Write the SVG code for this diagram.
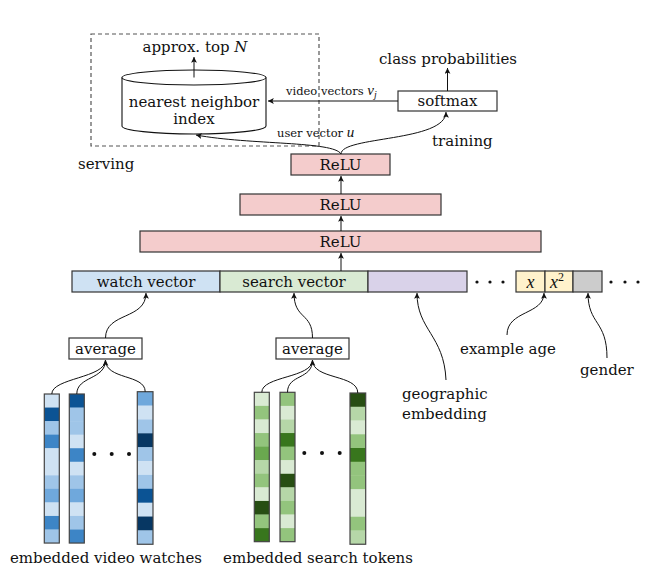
<svg xmlns="http://www.w3.org/2000/svg" width="666" height="588" viewBox="0 0 666 588">
<style>
text{font-family:"DejaVu Serif","Liberation Serif",serif;font-size:15px;fill:#111}
.sm{font-size:11.5px}
.it{font-style:italic}
.mx{font-family:"Liberation Serif","DejaVu Serif",serif;font-style:italic;font-size:18px}
.box{stroke:#333;stroke-width:1.2}
.c{fill:none;stroke:#111;stroke-width:1}
.col{fill:none;stroke:#444;stroke-width:1.2}
.cs{stroke:none}
</style>
<defs>
<marker id="ah" markerWidth="7" markerHeight="6" refX="5" refY="2.5" orient="auto" markerUnits="userSpaceOnUse" viewBox="0 0 6 5">
<path d="M0,0 L5,2.5 L0,5 L1.2,2.5 z" fill="#111"/>
</marker>
</defs>
<rect width="666" height="588" fill="#fff"/>

<g id="serving-box">
<rect x="91" y="34" width="228" height="112" fill="none" stroke="#555" stroke-width="1.2" stroke-dasharray="4,3"/>
<text x="78" y="169">serving</text>
</g>

<g id="nn-index">
<path d="M122,77.5 L122,126 A72,8 0 0 0 266,126 L266,77.5" fill="#fff" stroke="#111" stroke-width="1.1"/>
<ellipse cx="194" cy="77.5" rx="72" ry="7.5" fill="#fff" stroke="#111" stroke-width="1.1"/>
<text x="194" y="107" text-anchor="middle">nearest neighbor</text>
<text x="194" y="124" text-anchor="middle">index</text>
</g>

<g id="approx">
<text x="195" y="52" text-anchor="middle">approx. top <tspan class="it">N</tspan></text>
</g>

<g id="softmax">
<rect class="box" x="398" y="91" width="99" height="20" fill="#fff"/>
<text x="447.5" y="106" text-anchor="middle">softmax</text>
</g>
<g id="class-prob"><text x="448" y="64" text-anchor="middle">class probabilities</text></g>
<g id="training"><text x="432" y="146">training</text></g>

<g id="relu1"><rect class="box" x="291" y="154" width="99" height="21" fill="#f4cccc"/><text x="340.5" y="170" text-anchor="middle">ReLU</text></g>
<g id="relu2"><rect class="box" x="240" y="194" width="201" height="21" fill="#f4cccc"/><text x="340.5" y="210" text-anchor="middle">ReLU</text></g>
<g id="relu3"><rect class="box" x="140" y="231" width="401" height="21" fill="#f4cccc"/><text x="340.5" y="247" text-anchor="middle">ReLU</text></g>

<g id="feature-row">
<rect class="box" x="72" y="271" width="148" height="21" fill="#cfe2f3"/>
<text x="146" y="287" text-anchor="middle">watch vector</text>
<rect class="box" x="220" y="271" width="148" height="21" fill="#d9ead3"/>
<text x="294" y="287" text-anchor="middle">search vector</text>
<rect class="box" x="368" y="271" width="99" height="21" fill="#d9d2e9"/>
<circle cx="477" cy="282" r="1.6" fill="#111"/><circle cx="490" cy="282" r="1.6" fill="#111"/><circle cx="503" cy="282" r="1.6" fill="#111"/>
<rect class="box" x="516" y="271" width="29" height="21" fill="#fff2cc"/>
<text x="530.5" y="287.5" text-anchor="middle" class="mx">x</text>
<rect class="box" x="545" y="271" width="28" height="21" fill="#fff2cc"/>
<text x="550" y="287.5" class="mx">x<tspan font-size="12" font-style="normal" dy="-7">2</tspan></text>
<rect class="box" x="573" y="271" width="29" height="21" fill="#cccccc"/>
<circle cx="611" cy="282" r="1.6" fill="#111"/><circle cx="625" cy="282" r="1.6" fill="#111"/><circle cx="638" cy="282" r="1.6" fill="#111"/>
</g>

<g id="avg-watch"><rect class="box" x="69" y="338" width="73" height="21" fill="#fff"/><text x="105.5" y="354" text-anchor="middle">average</text></g>
<g id="avg-search"><rect class="box" x="276" y="338" width="73" height="21" fill="#fff"/><text x="312.5" y="354" text-anchor="middle">average</text></g>

<g id="geo-label"><text x="402" y="399">geographic</text><text x="402" y="419">embedding</text></g>
<g id="age-label"><text x="460" y="354">example age</text></g>
<g id="gender-label"><text x="580" y="375">gender</text></g>

<g id="watch-columns">
<g class="cs">
<rect x="44.3" y="394" width="15" height="13.9" fill="#cfe2f3"/>
<rect x="44.3" y="407.55" width="15" height="13.9" fill="#0b5394"/>
<rect x="44.3" y="421.1" width="15" height="13.9" fill="#9fc5e8"/>
<rect x="44.3" y="434.65" width="15" height="13.9" fill="#3d85c6"/>
<rect x="44.3" y="448.2" width="15" height="13.9" fill="#cfe2f3"/>
<rect x="44.3" y="461.75" width="15" height="13.9" fill="#cfe2f3"/>
<rect x="44.3" y="475.3" width="15" height="13.9" fill="#9fc5e8"/>
<rect x="44.3" y="488.85" width="15" height="13.9" fill="#6fa8dc"/>
<rect x="44.3" y="502.4" width="15" height="13.9" fill="#cfe2f3"/>
<rect x="44.3" y="515.95" width="15" height="13.9" fill="#3d85c6"/>
<rect x="44.3" y="529.5" width="15" height="13.55" fill="#9fc5e8"/>

<rect x="69.3" y="394" width="15" height="13.9" fill="#0b5394"/>
<rect x="69.3" y="407.55" width="15" height="13.9" fill="#9fc5e8"/>
<rect x="69.3" y="421.1" width="15" height="13.9" fill="#9fc5e8"/>
<rect x="69.3" y="434.65" width="15" height="13.9" fill="#cfe2f3"/>
<rect x="69.3" y="448.2" width="15" height="13.9" fill="#3d85c6"/>
<rect x="69.3" y="461.75" width="15" height="13.9" fill="#cfe2f3"/>
<rect x="69.3" y="475.3" width="15" height="13.9" fill="#9fc5e8"/>
<rect x="69.3" y="488.85" width="15" height="13.9" fill="#6fa8dc"/>
<rect x="69.3" y="502.4" width="15" height="13.9" fill="#cfe2f3"/>
<rect x="69.3" y="515.95" width="15" height="13.9" fill="#9fc5e8"/>
<rect x="69.3" y="529.5" width="15" height="13.55" fill="#3d85c6"/>

<rect x="137.3" y="391.7" width="15.7" height="14.2" fill="#6fa8dc"/>
<rect x="137.3" y="405.57" width="15.7" height="14.2" fill="#cfe2f3"/>
<rect x="137.3" y="419.44" width="15.7" height="14.2" fill="#9fc5e8"/>
<rect x="137.3" y="433.31" width="15.7" height="14.2" fill="#073763"/>
<rect x="137.3" y="447.18" width="15.7" height="14.2" fill="#9fc5e8"/>
<rect x="137.3" y="461.05" width="15.7" height="14.2" fill="#cfe2f3"/>
<rect x="137.3" y="474.92" width="15.7" height="14.2" fill="#9fc5e8"/>
<rect x="137.3" y="488.79" width="15.7" height="14.2" fill="#0b5394"/>
<rect x="137.3" y="502.66" width="15.7" height="14.2" fill="#cfe2f3"/>
<rect x="137.3" y="516.53" width="15.7" height="14.2" fill="#073763"/>
<rect x="137.3" y="530.4" width="15.7" height="13.87" fill="#9fc5e8"/>
</g>
<rect class="col" x="44.3" y="394" width="15" height="149.05"/>
<rect class="col" x="69.3" y="394" width="15" height="149.05"/>
<rect class="col" x="137.3" y="391.7" width="15.7" height="152.57"/>
<circle cx="94.3" cy="454" r="2" fill="#111"/><circle cx="111.7" cy="454" r="2" fill="#111"/><circle cx="129" cy="454" r="2" fill="#111"/>
<text x="106" y="563" text-anchor="middle">embedded video watches</text>
</g>

<g id="search-columns">
<g class="cs">
<rect x="254.3" y="392.3" width="15" height="13.9" fill="#d9ead3"/>
<rect x="254.3" y="405.88" width="15" height="13.9" fill="#93c47d"/>
<rect x="254.3" y="419.46" width="15" height="13.9" fill="#d9ead3"/>
<rect x="254.3" y="433.04" width="15" height="13.9" fill="#93c47d"/>
<rect x="254.3" y="446.62" width="15" height="13.9" fill="#6aa84f"/>
<rect x="254.3" y="460.2" width="15" height="13.9" fill="#b6d7a8"/>
<rect x="254.3" y="473.78" width="15" height="13.9" fill="#93c47d"/>
<rect x="254.3" y="487.36" width="15" height="13.9" fill="#d9ead3"/>
<rect x="254.3" y="500.94" width="15" height="13.9" fill="#274e13"/>
<rect x="254.3" y="514.52" width="15" height="13.9" fill="#93c47d"/>
<rect x="254.3" y="528.1" width="15" height="13.58" fill="#38761d"/>

<rect x="280" y="392.3" width="15" height="13.9" fill="#93c47d"/>
<rect x="280" y="405.88" width="15" height="13.9" fill="#d9ead3"/>
<rect x="280" y="419.46" width="15" height="13.9" fill="#b6d7a8"/>
<rect x="280" y="433.04" width="15" height="13.9" fill="#38761d"/>
<rect x="280" y="446.62" width="15" height="13.9" fill="#93c47d"/>
<rect x="280" y="460.2" width="15" height="13.9" fill="#d9ead3"/>
<rect x="280" y="473.78" width="15" height="13.9" fill="#274e13"/>
<rect x="280" y="487.36" width="15" height="13.9" fill="#b6d7a8"/>
<rect x="280" y="500.94" width="15" height="13.9" fill="#93c47d"/>
<rect x="280" y="514.52" width="15" height="13.9" fill="#d9ead3"/>
<rect x="280" y="528.1" width="15" height="13.58" fill="#93c47d"/>

<rect x="350" y="393" width="15.7" height="14.1" fill="#274e13"/>
<rect x="350" y="406.75" width="15.7" height="14.1" fill="#b6d7a8"/>
<rect x="350" y="420.5" width="15.7" height="14.1" fill="#d9ead3"/>
<rect x="350" y="434.25" width="15.7" height="14.1" fill="#93c47d"/>
<rect x="350" y="448" width="15.7" height="14.1" fill="#38761d"/>
<rect x="350" y="461.75" width="15.7" height="14.1" fill="#93c47d"/>
<rect x="350" y="475.5" width="15.7" height="14.1" fill="#93c47d"/>
<rect x="350" y="489.25" width="15.7" height="14.1" fill="#d9ead3"/>
<rect x="350" y="503" width="15.7" height="14.1" fill="#d9ead3"/>
<rect x="350" y="516.75" width="15.7" height="14.1" fill="#93c47d"/>
<rect x="350" y="530.5" width="15.7" height="13.75" fill="#b6d7a8"/>
</g>
<rect class="col" x="254.3" y="392.3" width="15" height="149.38"/>
<rect class="col" x="280" y="392.3" width="15" height="149.38"/>
<rect class="col" x="350" y="393" width="15.7" height="151.25"/>
<circle cx="304.3" cy="453" r="2" fill="#111"/><circle cx="322" cy="453" r="2" fill="#111"/><circle cx="339.7" cy="453" r="2" fill="#111"/>
<text x="318" y="563" text-anchor="middle">embedded search tokens</text>
</g>

<g id="connectors">
<path class="c" d="M194,77.5 L194,57" marker-end="url(#ah)"/>
<path class="c" d="M447.5,91 L447.5,68" marker-end="url(#ah)"/>
<path class="c" d="M398,101 L268,101" marker-end="url(#ah)"/>
<text class="sm" x="286" y="95">video vectors <tspan class="mx" style="font-size:15px">v</tspan><tspan class="mx" style="font-size:10px" dy="3">j</tspan></text>
<path class="c" d="M341,154 C334,141 250,145 196,135" marker-end="url(#ah)"/>
<text class="sm" x="277" y="137">user vector <tspan class="mx" style="font-size:15px">u</tspan></text>
<path class="c" d="M341,154 C341,136 446,142 446,112" marker-end="url(#ah)"/>
<path class="c" d="M341,194 L341,176" marker-end="url(#ah)"/>
<path class="c" d="M341,231 L341,216" marker-end="url(#ah)"/>
<path class="c" d="M341,271 L341,253" marker-end="url(#ah)"/>
<path class="c" d="M105.5,338 C105.5,312 146,320 146,293" marker-end="url(#ah)"/>
<path class="c" d="M312.5,338 C312.5,312 294,320 294,293" marker-end="url(#ah)"/>
<path class="c" d="M446,380 C444,335 417,330 417,293" marker-end="url(#ah)"/>
<path class="c" d="M507,335 C507,310 544,315 544,293" marker-end="url(#ah)"/>
<path class="c" d="M607,358 C607,320 588,325 588,293" marker-end="url(#ah)"/>
<path class="c" d="M51.8,394 C51.8,378 105.5,378 105.5,360" marker-end="url(#ah)"/>
<path class="c" d="M76.8,394 C76.8,376 105.5,380 105.5,360"/>
<path class="c" d="M145.2,391.7 C145.2,374 105.5,380 105.5,360"/>
<path class="c" d="M261.8,392.3 C261.8,376 312.5,378 312.5,360" marker-end="url(#ah)"/>
<path class="c" d="M287.5,392.3 C287.5,374 312.5,380 312.5,360"/>
<path class="c" d="M357.8,393 C357.8,374 312.5,380 312.5,360"/>
</g>
</svg>
